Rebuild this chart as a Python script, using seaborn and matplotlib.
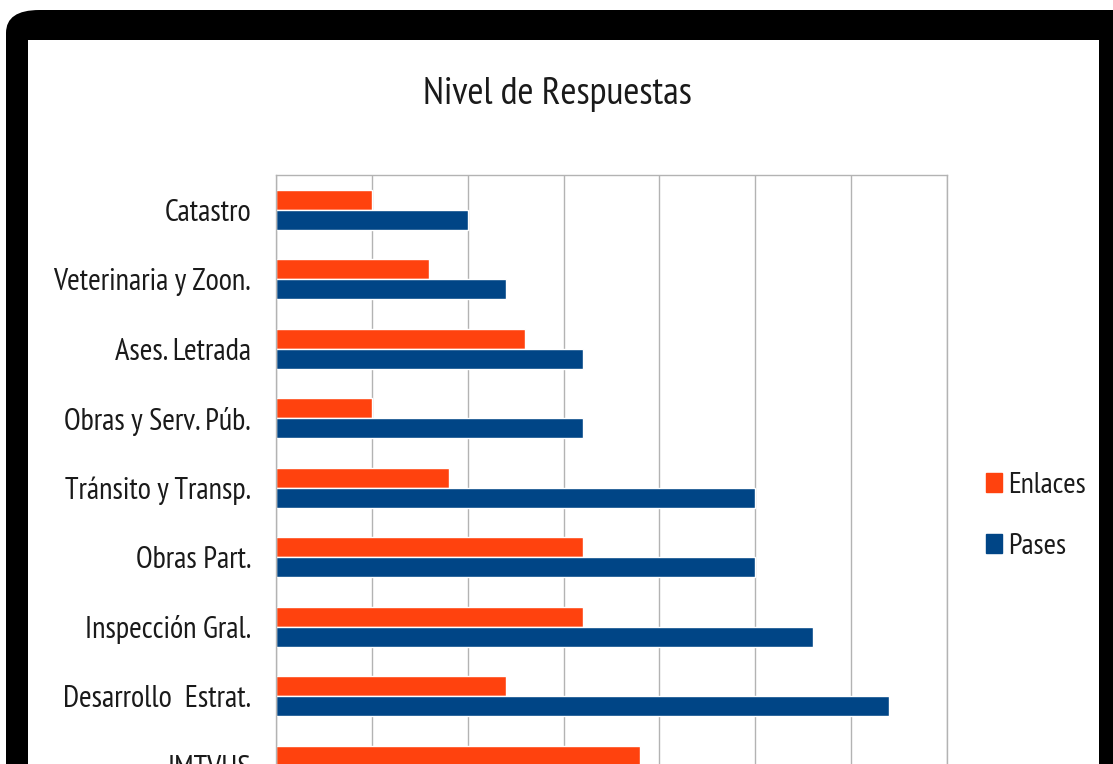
import matplotlib
matplotlib.use("Agg")
import matplotlib.pyplot as plt
import matplotlib.patches as mpatches
import seaborn as sns
import pandas as pd

# datos (la ultima barra de Pases queda fuera del recorte)
areas = ["Catastro", "Veterinaria y Zoon.", "Ases. Letrada", "Obras y Serv. Púb.",
         "Tránsito y Transp.", "Obras Part.", "Inspección Gral.", "Desarrollo  Estrat.",
         "IMTVUS"]
enlaces = [5, 8, 13, 5, 9, 16, 16, 12, 19]
pases = [10, 12, 16, 16, 25, 25, 28, 32, 30]
series = ["Enlaces", "Pases"]
colores = ["#ff420e", "#004586"]

df = pd.DataFrame({
    "area": areas * 2,
    "serie": ["Enlaces"] * len(areas) + ["Pases"] * len(areas),
    "valor": enlaces + pases,
})

sns.set_theme(style="white")
plt.rcParams["font.family"] = ["PT Sans Narrow", "DejaVu Sans"]

W, H = 1113, 764
fig = plt.figure(figsize=(W / 100, H / 100), dpi=100)
fig.patch.set_facecolor("white")

# marco negro redondeado y fondo blanco
marco = mpatches.FancyBboxPatch((6 / W, -0.1), 1.2, (H - 10) / H + 0.1,
                                boxstyle="round,pad=0,rounding_size=0.03",
                                transform=fig.transFigure, facecolor="black",
                                edgecolor="none", zorder=0)
fig.patches.append(marco)
fondo = mpatches.Rectangle((28 / W, -0.1), (1099 - 28) / W, (H - 40) / H + 0.1,
                           transform=fig.transFigure, facecolor="white",
                           edgecolor="none", zorder=1)
fig.patches.append(fondo)

top = 1 - 175 / H
alto = 625.5 / H
ax = fig.add_axes([276 / W, top - alto, 671 / W, alto])
ax.set_facecolor("white")
ax.set_zorder(2)

sns.barplot(data=df, y="area", x="valor", hue="serie", hue_order=series,
            palette=colores, orient="h", width=0.58, ax=ax, legend=False,
            saturation=1)

ax.set_xlim(0, 35)
ax.set_xticks(range(0, 36, 5))
ax.set_ylim(len(areas) - 0.5, -0.5)
ax.xaxis.grid(True, color="#b3b3b3", linewidth=1)
ax.set_axisbelow(True)
for s in ax.spines.values():
    s.set_color("#b3b3b3")
    s.set_linewidth(1)
ax.set_xlabel("")
ax.set_ylabel("")
ax.tick_params(axis="y", length=0, pad=18, labelsize=22, labelcolor="#1a1a1a")
ax.tick_params(axis="x", length=0, labelbottom=False)

fig.text(557 / W, 1 - 95 / H, "Nivel de Respuestas", ha="center", va="center",
         fontsize=28, color="#1a1a1a")

handles = [mpatches.Patch(color=c, label=s) for s, c in zip(series, colores)]
leg = fig.legend(handles=handles, loc="center left", bbox_to_anchor=(986 / W, 1 - 516 / H),
                 frameon=False, fontsize=21.5, handlelength=0.55, handleheight=0.6,
                 handletextpad=0.2, labelspacing=1.15, borderpad=0, borderaxespad=0,
                 labelcolor="#1a1a1a")
leg.set_zorder(5)

fig.savefig("out.png", dpi=100)
